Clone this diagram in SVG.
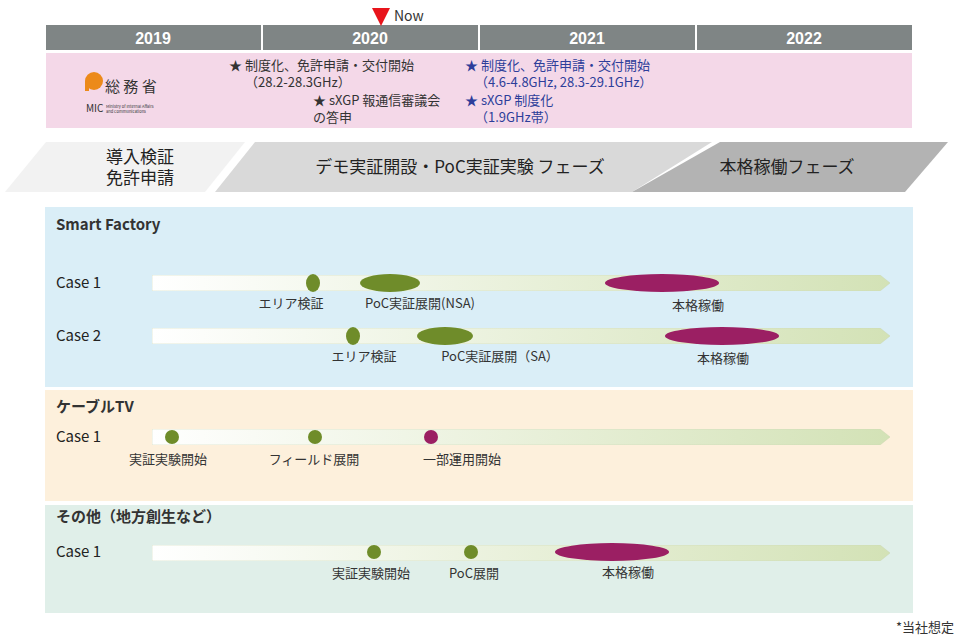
<svg xmlns="http://www.w3.org/2000/svg" width="960" height="637" viewBox="0 0 960 637">
<style>
text{font-family:"Noto Sans CJK JP","Liberation Sans",sans-serif;}
.yr{fill:#fff;font-size:16px;font-weight:bold;text-anchor:middle;font-family:"Liberation Sans",sans-serif;}
.m{font-size:13px;fill:#333;}
.b{font-size:13px;fill:#2d3e9a;}
.ph{font-size:17px;fill:#222;text-anchor:middle;}
.sec{font-size:15px;font-weight:bold;fill:#333;}
.case{font-size:15px;fill:#222;}
.lb{font-size:13px;fill:#333;text-anchor:middle;}
.g{fill:#6f8c2a;}
.p{fill:#9b1f63;}
</style>
<defs>
<linearGradient id="bar" x1="0" x2="1" y1="0" y2="0"><stop offset="0" stop-color="#ffffff"/><stop offset="1" stop-color="#d3e2b6"/></linearGradient>
<symbol id="arr" viewBox="0 0 740 16"><path d="M0,0H728L738,8L728,16H0Z" fill="url(#bar)" stroke="#c9d6b0" stroke-width="0.5"/></symbol>
</defs>
<rect width="960" height="637" fill="#fff"/>
<g id="years">
<rect x="46" y="25" width="215" height="25" fill="#7f8585"/><text class="yr" x="153" y="44">2019</text>
<rect x="263" y="25" width="215" height="25" fill="#7f8585"/><text class="yr" x="370" y="44">2020</text>
<rect x="480" y="25" width="215" height="25" fill="#7f8585"/><text class="yr" x="587" y="44">2021</text>
<rect x="697" y="25" width="215" height="25" fill="#7f8585"/><text class="yr" x="804" y="44">2022</text>
</g>
<g id="now"><path d="M372,8H390L381,26Z" fill="#e8141b"/><text x="394" y="21" font-size="14" fill="#333" font-family="Liberation Sans,sans-serif">Now</text></g>
<g id="mic">
<rect x="46" y="53" width="866" height="75" fill="#f4d8e8"/>
<circle cx="94" cy="81" r="9" fill="#ec8a1a"/><rect x="85" y="81" width="4" height="10" fill="#ec8a1a"/>
<text x="105" y="92" font-size="15" fill="#333">総 務 省</text>
<text x="86" y="112" font-size="10" fill="#333" font-family="Liberation Sans,sans-serif">MIC</text>
<text x="106" y="108" font-size="4" fill="#333" font-family="Liberation Sans,sans-serif">Ministry of Internal Affairs</text>
<text x="106" y="113" font-size="4" fill="#333" font-family="Liberation Sans,sans-serif">and Communications</text>
<text class="m" x="229" y="70">★ 制度化、免許申請・交付開始</text>
<text class="m" x="245" y="87">（28.2-28.3GHz）</text>
<text class="m" x="313" y="105">★ sXGP 報通信審議会</text>
<text class="m" x="313" y="122">の答申</text>
<text class="b" x="465" y="70">★ 制度化、免許申請・交付開始</text>
<text class="b" x="475" y="87">（4.6-4.8GHz, 28.3-29.1GHz）</text>
<text class="b" x="465" y="105">★ sXGP 制度化</text>
<text class="b" x="475" y="122">（1.9GHz帯）</text>
</g>
<g id="phases">
<path d="M46,142H245L205,192H5Z" fill="#f2f2f2"/>
<text class="ph" x="140" y="163">導入検証</text><text class="ph" x="140" y="184">免許申請</text>
<path d="M255,142H712L632,192H215Z" fill="#d9d9d9"/>
<text class="ph" x="460" y="173">デモ実証開設・PoC実証実験 フェーズ</text>
<path d="M720,142H948L905,192H632Z" fill="#b3b3b3"/>
<text class="ph" x="787" y="173">本格稼働フェーズ</text>
</g>
<g id="smart">
<rect x="45" y="207" width="868" height="180" fill="#daeef7"/>
<text class="sec" x="56" y="230">Smart Factory</text>
<text class="case" x="56" y="288">Case 1</text>
<use href="#arr" x="152" y="275" width="740" height="16"/>
<ellipse class="g" cx="313" cy="283" rx="7" ry="9"/><ellipse class="g" cx="390" cy="283" rx="30" ry="9"/><ellipse class="p" cx="662" cy="283" rx="57" ry="9"/>
<text class="lb" x="291" y="308">エリア検証</text><text class="lb" x="420" y="308">PoC実証展開(NSA)</text><text class="lb" x="698" y="310">本格稼働</text>
<text class="case" x="56" y="341">Case 2</text>
<use href="#arr" x="152" y="328" width="740" height="16"/>
<ellipse class="g" cx="353" cy="336" rx="7" ry="9"/><ellipse class="g" cx="445" cy="336" rx="28" ry="9"/><ellipse class="p" cx="722" cy="336" rx="57" ry="9"/>
<text class="lb" x="364" y="361">エリア検証</text><text class="lb" x="500" y="361">PoC実証展開（SA）</text><text class="lb" x="723" y="363">本格稼働</text>
</g>
<g id="cable">
<rect x="45" y="390" width="868" height="111" fill="#fdf0dc"/>
<text class="sec" x="56" y="412">ケーブルTV</text>
<text class="case" x="56" y="442">Case 1</text>
<use href="#arr" x="152" y="429" width="740" height="16"/>
<circle class="g" cx="172" cy="437" r="7"/><circle class="g" cx="315" cy="437" r="7"/><circle class="p" cx="431" cy="437" r="7"/>
<text class="lb" x="168" y="464">実証実験開始</text><text class="lb" x="314" y="464">フィールド展開</text><text class="lb" x="462" y="464">一部運用開始</text>
</g>
<g id="other">
<rect x="45" y="505" width="868" height="108" fill="#e0efe9"/>
<text class="sec" x="56" y="522">その他（地方創生など）</text>
<text class="case" x="56" y="557">Case 1</text>
<use href="#arr" x="152" y="545" width="740" height="16"/>
<circle class="g" cx="374" cy="552" r="7"/><circle class="g" cx="471" cy="552" r="7"/><ellipse class="p" cx="612" cy="552" rx="57" ry="9"/>
<text class="lb" x="371" y="578">実証実験開始</text><text class="lb" x="474" y="578">PoC展開</text><text class="lb" x="628" y="577">本格稼働</text>
</g>
<text x="954" y="632" font-size="13" fill="#333" text-anchor="end">*当社想定</text>
<g id="connectors"/>
</svg>
